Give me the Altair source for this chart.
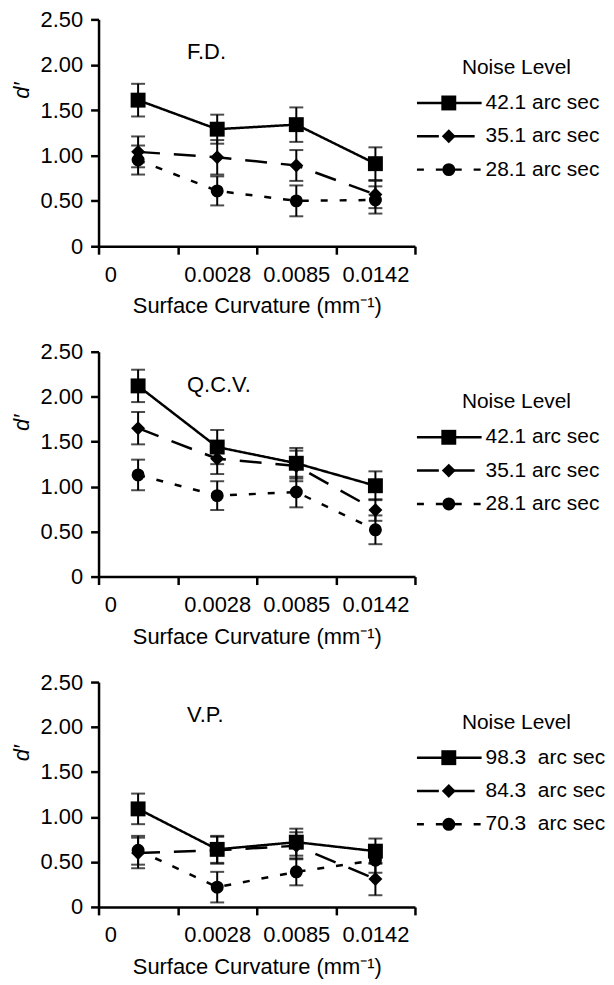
import altair as alt
import pandas as pd

FONT = "Liberation Sans"
FS = 22
LEG_FS = 21

categories = ["0", "0.0028", "0.0085", "0.0142"]
series_keys = ["high", "mid", "low"]
shape_range = ["square", "diamond", "circle"]
size_range = [225, 170, 196]
dash_range = [[1, 0], [22, 14], [7, 12]]

# Panel F.D.
fd_name = "F.D."
fd_labels = ["42.1 arc sec", "35.1 arc sec", "28.1 arc sec"]
fd_high = [1.61, 1.29, 1.34, 0.91]
fd_high_err = [0.18, 0.16, 0.19, 0.18]
fd_mid = [1.04, 0.98, 0.89, 0.57]
fd_mid_err = [0.17, 0.19, 0.17, 0.15]
fd_low = [0.95, 0.61, 0.50, 0.51]
fd_low_err = [0.16, 0.16, 0.17, 0.15]

# Panel Q.C.V.
qcv_name = "Q.C.V."
qcv_labels = ["42.1 arc sec", "35.1 arc sec", "28.1 arc sec"]
qcv_high = [2.12, 1.44, 1.26, 1.01]
qcv_high_err = [0.18, 0.19, 0.17, 0.16]
qcv_mid = [1.65, 1.31, 1.23, 0.74]
qcv_mid_err = [0.18, 0.17, 0.17, 0.12]
qcv_low = [1.13, 0.90, 0.94, 0.52]
qcv_low_err = [0.17, 0.16, 0.17, 0.16]

# Panel V.P.
vp_name = "V.P."
vp_labels = ["98.3\u00a0 arc sec", "84.3\u00a0 arc sec", "70.3\u00a0 arc sec"]
vp_high = [1.09, 0.64, 0.72, 0.62]
vp_high_err = [0.17, 0.15, 0.15, 0.14]
vp_mid = [0.60, 0.63, 0.68, 0.31]
vp_mid_err = [0.17, 0.15, 0.15, 0.18]
vp_low = [0.63, 0.22, 0.39, 0.52]
vp_low_err = [0.16, 0.17, 0.15, 0.14]

y_ticks = [0, 0.5, 1.0, 1.5, 2.0, 2.5]
x_title = "Surface Curvature (mm\u207b\u00b9)"
legend_title = "Noise Level"

shape_scale = alt.Scale(domain=series_keys, range=shape_range)
size_scale = alt.Scale(domain=series_keys, range=size_range)
dash_scale = alt.Scale(domain=series_keys, range=dash_range)


def panel(name, labels, vals, errs, height, legend_top):
    rows = []
    for k, lab, v, e in zip(series_keys, labels, vals, errs):
        for c, vv, ee in zip(categories, v, e):
            rows.append({"key": k, "label": lab, "cat": c, "value": vv, "err": ee})
    df = pd.DataFrame(rows)

    x = alt.X(
        "cat:N",
        sort=categories,
        scale=alt.Scale(type="band", domain=categories, paddingInner=0, paddingOuter=0),
        axis=alt.Axis(
            title=x_title,
            tickBand="extent",
            labelAngle=0,
            tickSize=8,
            tickWidth=2.5,
            domainWidth=2.5,
            labelPadding=10,
            titlePadding=11,
            labelOffset={"condition": {"test": "datum.value === '0'", "value": -28}, "value": 0},
        ),
    )
    y = alt.Y(
        "value:Q",
        scale=alt.Scale(domain=[0, 2.5], nice=False),
        axis=alt.Axis(
            title="d\u2032",
            values=y_ticks,
            labelExpr="datum.value == 0 ? '0' : format(datum.value, '.2f')",
            titleFontStyle="italic",
            titleY=71,
            tickSize=8,
            tickWidth=2.5,
            domainWidth=2.5,
            labelPadding=8,
            titlePadding=7,
        ),
    )

    base = alt.Chart(df).transform_calculate(
        lo="datum.value - datum.err", hi="datum.value + datum.err"
    )
    lines = base.mark_line(strokeWidth=2.5, color="black").encode(
        x=x, y=y,
        strokeDash=alt.StrokeDash("key:N", scale=dash_scale, legend=None),
        detail="key:N",
    )
    bars = base.mark_rule(strokeWidth=2, color="black").encode(
        x=x, y=alt.Y("lo:Q"), y2="hi:Q"
    )
    cap_lo = base.mark_tick(size=14, thickness=2, color="black").encode(x=x, y=alt.Y("lo:Q"))
    cap_hi = base.mark_tick(size=14, thickness=2, color="black").encode(x=x, y=alt.Y("hi:Q"))
    pts = base.mark_point(filled=True, opacity=1, color="black").encode(
        x=x, y=y,
        shape=alt.Shape("key:N", scale=shape_scale, legend=None),
        size=alt.Size("key:N", scale=size_scale, legend=None),
    )
    name_txt = alt.Chart(pd.DataFrame({"t": [name]})).mark_text(
        align="left", baseline="middle", fontSize=FS, font=FONT, color="black"
    ).encode(x=alt.value(89), y=alt.value(33), text="t:N")

    main = alt.layer(lines, bars, cap_lo, cap_hi, pts, name_txt)

    leg = pd.DataFrame({"key": series_keys, "label": labels, "idx": [0, 1, 2]})
    ly = alt.Y("idx:Q", scale=alt.Scale(domain=[0, 2], range=[legend_top + 35, legend_top + 102]), axis=None)
    lg_base = alt.Chart(leg)
    lg_rule = lg_base.mark_rule(strokeWidth=2.5, color="black").encode(
        x=alt.value(320), x2=alt.value(385), y=ly,
        strokeDash=alt.StrokeDash("key:N", scale=dash_scale, legend=None),
    )
    lg_pts = lg_base.mark_point(filled=True, opacity=1, color="black").encode(
        x=alt.value(352), y=ly,
        shape=alt.Shape("key:N", scale=shape_scale, legend=None),
        size=alt.Size("key:N", scale=size_scale, legend=None),
    )
    lg_txt = lg_base.mark_text(
        align="left", baseline="middle", fontSize=LEG_FS, font=FONT, color="black"
    ).encode(x=alt.value(389), y=ly, text="label:N")
    lg_title = alt.Chart(pd.DataFrame({"t": [legend_title]})).mark_text(
        align="center", baseline="middle", fontSize=LEG_FS, font=FONT, color="black"
    ).encode(x=alt.value(420), y=alt.value(legend_top), text="t:N")
    legend = alt.layer(lg_rule, lg_pts, lg_txt, lg_title)

    return alt.layer(main, legend).resolve_scale(y="independent").properties(
        width=318, height=height
    )


p1 = panel(fd_name, fd_labels, [fd_high, fd_mid, fd_low], [fd_high_err, fd_mid_err, fd_low_err], 228, 49)
p2 = panel(qcv_name, qcv_labels, [qcv_high, qcv_mid, qcv_low], [qcv_high_err, qcv_mid_err, qcv_low_err], 226, 51)
p3 = panel(vp_name, vp_labels, [vp_high, vp_mid, vp_low], [vp_high_err, vp_mid_err, vp_low_err], 226, 41)

chart = alt.vconcat(p1, p2, p3, spacing=24).properties(
    padding={"left": 2, "top": -2, "right": 0, "bottom": 0}
).configure_view(stroke=None).configure_axis(
    labelFont=FONT, titleFont=FONT, labelFontSize=FS, titleFontSize=FS,
    labelColor="black", titleColor="black", domainColor="black", tickColor="black",
    titleFontWeight="normal", grid=False,
)

chart.save("out.html", embed_options={"renderer": "svg", "actions": False})
